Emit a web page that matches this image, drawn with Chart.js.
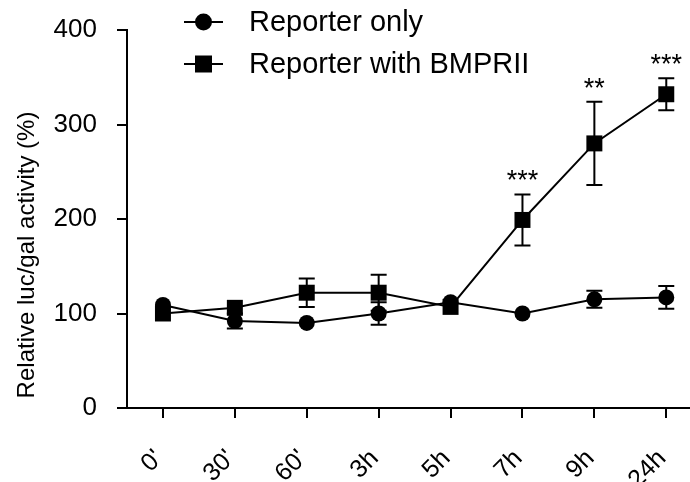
<!DOCTYPE html>
<html>
<head>
<meta charset="utf-8">
<script src="https://cdn.jsdelivr.net/npm/chart.js@4.4.0/dist/chart.umd.min.js"></script>
<style>
  html, body { margin: 0; padding: 0; background: #fff; }
</style>
</head>
<body>
<canvas id="myChart" width="690" height="482"></canvas>
<script>
const timeLabels = ["0'", "30'", "60'", "3h", "5h", "7h", "9h", "24h"];
const reporterOnly = [109, 92, 90, 100, 112, 100, 115, 117];
const reporterOnlyErr = [0, 8, 0, 12, 0, 0, 9, 12];
const withBmprii = [100, 106, 122, 122, 107, 199, 280, 332];
const withBmpriiErr = [0, 0, 15, 19, 0, 27, 44, 17];
const significance = ["", "", "", "", "", "***", "**", "***"];
const yTicks = [0, 100, 200, 300, 400];

const FONT = "Liberation Sans, Arial, Helvetica, sans-serif";

function toPoints(values) {
  return values.map((v, i) => ({ x: i, y: v }));
}

// error bars, asterisks, rotated y title and the legend are drawn on top
const extras = {
  id: "extras",
  afterDatasetsDraw(chart) {
    const ctx = chart.ctx;
    const xs = chart.scales.x;
    const ys = chart.scales.y;
    ctx.save();
    ctx.strokeStyle = "#000";
    ctx.lineWidth = 2;

    const bars = [[reporterOnly, reporterOnlyErr], [withBmprii, withBmpriiErr]];
    bars.forEach(([vals, errs]) => {
      vals.forEach((v, i) => {
        if (!errs[i]) return;
        const px = xs.getPixelForValue(i);
        const top = ys.getPixelForValue(v + errs[i]);
        const bot = ys.getPixelForValue(v - errs[i]);
        ctx.beginPath();
        ctx.moveTo(px, top); ctx.lineTo(px, bot);
        ctx.moveTo(px - 8, top); ctx.lineTo(px + 8, top);
        ctx.moveTo(px - 8, bot); ctx.lineTo(px + 8, bot);
        ctx.stroke();
      });
    });

    // significance marks above the BMPRII error bars
    ctx.fillStyle = "#000";
    ctx.font = "27px " + FONT;
    ctx.textAlign = "center";
    ctx.textBaseline = "alphabetic";
    significance.forEach((s, i) => {
      if (!s) return;
      const px = xs.getPixelForValue(i);
      const top = ys.getPixelForValue(withBmprii[i] + withBmpriiErr[i]);
      ctx.fillText(s, px, top - 5);
    });
    ctx.restore();
  },
  afterDraw(chart) {
    const ctx = chart.ctx;
    ctx.save();
    ctx.fillStyle = "#000";

    // y axis title
    ctx.font = "24px " + FONT;
    ctx.translate(27, 255);
    ctx.rotate(-Math.PI / 2);
    ctx.textAlign = "center";
    ctx.textBaseline = "middle";
    ctx.fillText("Relative luc/gal activity (%)", 0, 0);
    ctx.setTransform(1, 0, 0, 1, 0, 0);

    // legend
    const rows = [22, 64];
    chart.data.datasets.forEach((ds, k) => {
      const y = rows[k];
      ctx.strokeStyle = "#000";
      ctx.lineWidth = 2;
      ctx.beginPath();
      ctx.moveTo(184, y); ctx.lineTo(223, y);
      ctx.stroke();
      ctx.beginPath();
      if (ds.pointStyle === "rect") {
        ctx.rect(203.5 - 8.5, y - 8.5, 17, 17);
      } else {
        ctx.arc(203.5, y, 8.5, 0, Math.PI * 2);
      }
      ctx.fill();
      ctx.font = "29px " + FONT;
      ctx.textAlign = "left";
      ctx.textBaseline = "middle";
      ctx.fillText(ds.label, 249, y + 1);
    });
    ctx.restore();
  }
};

const data = {
  datasets: [{
    label: "Reporter only",
    data: toPoints(reporterOnly),
    borderColor: "#000",
    backgroundColor: "#000",
    borderWidth: 2,
    pointStyle: "circle",
    pointRadius: 8,
    pointBorderWidth: 0,
    pointHoverRadius: 8
  }, {
    label: "Reporter with BMPRII",
    data: toPoints(withBmprii),
    borderColor: "#000",
    backgroundColor: "#000",
    borderWidth: 2,
    pointStyle: "rect",
    pointRadius: 11.3,
    pointBorderWidth: 0,
    pointHoverRadius: 11.3
  }]
};

const config = {
  type: "line",
  data: data,
  plugins: [extras],
  options: {
    responsive: false,
    animation: false,
    devicePixelRatio: 1,
    layout: { autoPadding: false, padding: { top: 30, right: 0, left: 0, bottom: 0 } },
    plugins: {
      legend: { display: false },
      tooltip: { enabled: false }
    },
    scales: {
      x: {
        type: "linear",
        min: -0.5,
        max: 7.33,
        afterFit: function(scale) {
          scale.height = 74;
          scale.paddingLeft = 0;
          scale.paddingRight = 0;
        },
        border: { display: true, color: "#000", width: 2 },
        grid: { drawOnChartArea: false, drawTicks: true, tickLength: 10, color: "#000", lineWidth: 2 },
        ticks: {
          stepSize: 1,
          includeBounds: false,
          autoSkip: false,
          minRotation: 45,
          maxRotation: 45,
          padding: 26,
          labelOffset: -4,
          color: "#000",
          font: { family: FONT, size: 25 },
          callback: function(value) { return timeLabels[value]; }
        }
      },
      y: {
        min: 0,
        max: 400,
        afterFit: function(scale) {
          scale.width = 127;
          scale.paddingTop = 0;
          scale.paddingBottom = 0;
        },
        afterBuildTicks: function(scale) { scale.ticks = yTicks.map(v => ({ value: v })); },
        border: { display: true, color: "#000", width: 2 },
        grid: { drawOnChartArea: false, drawTicks: true, tickLength: 10, color: "#000", lineWidth: 2 },
        ticks: {
          padding: 20,
          color: "#000",
          font: { family: FONT, size: 26 }
        }
      }
    }
  }
};

const myChart = new Chart(document.getElementById("myChart"), config);
</script>
</body>
</html>
